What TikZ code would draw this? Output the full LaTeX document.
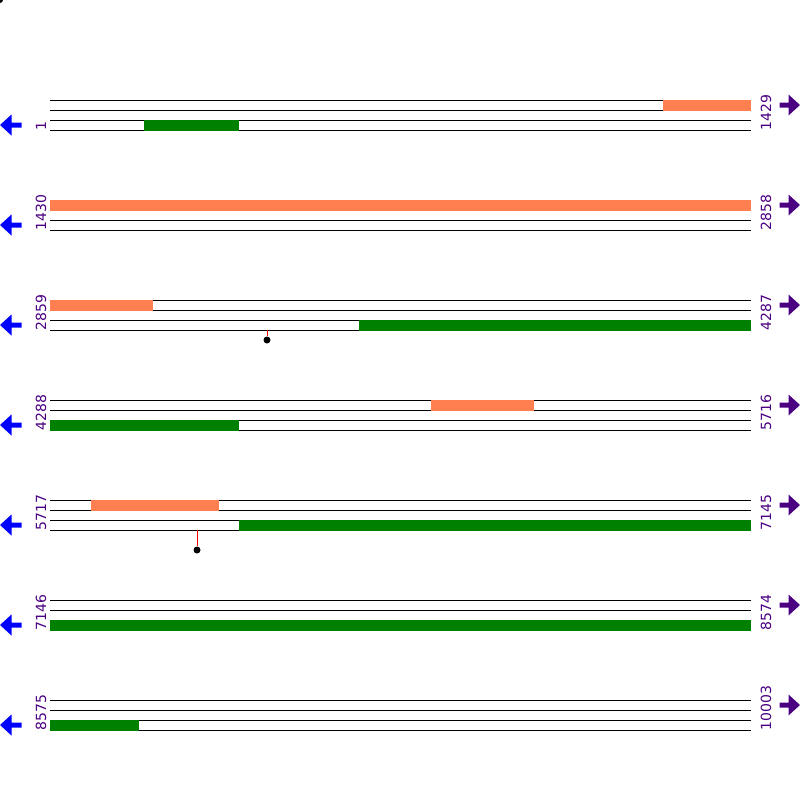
\documentclass[tikz,border=0pt]{standalone}
\usepackage{fontspec}
\newfontfamily\lblfont{DejaVu Sans}
\definecolor{coralbar}{HTML}{FF7F50}
\definecolor{greenbar}{HTML}{008000}
\definecolor{numcol}{HTML}{4B0082}
\definecolor{leftarr}{HTML}{0000FF}
\definecolor{rightarr}{HTML}{4B0082}
\tikzset{
  seqline/.style={black, line width=1pt},
  fwdbar/.style={fill=coralbar, draw=none},
  revbar/.style={fill=greenbar, draw=none},
  poslbl/.style={rotate=90, anchor=west, inner sep=0pt, text=numcol, font=\lblfont\fontsize{14}{15}\selectfont},
  pinline/.style={red, line width=1pt},
  pindot/.style={circle, fill=black, inner sep=0pt, minimum size=7pt},
  larrow/.style={fill=leftarr, draw=none},
  rarrow/.style={fill=rightarr, draw=none}
}
\begin{document}
\begin{tikzpicture}[x=1pt,y=-1pt]
\useasboundingbox (0,0) rectangle (800,800);
\fill[black] (0,0) circle (3);
% rows
\foreach \r/\a/\b [count=\i] in {100/1/1429,200/1430/2858,300/2859/4287,400/4288/5716,500/5717/7145,600/7146/8574,700/8575/10003}{
  \foreach \k in {0,10,20,30}{
    \draw[seqline] (50,\r+\k) -- (751,\r+\k);
  }
  \node[poslbl] (l\i) at (41,\r+30.5) {\a};
  \node[poslbl] (r\i) at (766,\r+30.5) {\b};
  \fill[larrow] (0,\r+25) -- (11.5,\r+14.5) -- (11.5,\r+22.5) -- (21.5,\r+22.5) -- (21.5,\r+27.5) -- (11.5,\r+27.5) -- (11.5,\r+35.5) -- cycle;
  \fill[rarrow] (800,\r+5) -- (788.5,\r-5.5) -- (788.5,\r+2.5) -- (779.5,\r+2.5) -- (779.5,\r+7.5) -- (788.5,\r+7.5) -- (788.5,\r+15.5) -- cycle;
}
% forward (orange) bars
\fill[fwdbar] (663,100) rectangle (751,110.5);
\fill[fwdbar] (50,200) rectangle (751,210.5);
\fill[fwdbar] (50,300) rectangle (153,310.5);
\fill[fwdbar] (431,400) rectangle (534,410.5);
\fill[fwdbar] (91,500) rectangle (219,510.5);
% reverse (green) bars
\fill[revbar] (144,120) rectangle (239,130.5);
\fill[revbar] (359,320) rectangle (751,330.5);
\fill[revbar] (50,420) rectangle (239,430.5);
\fill[revbar] (239,520) rectangle (751,530.5);
\fill[revbar] (50,620) rectangle (751,630.5);
\fill[revbar] (50,720) rectangle (139,730.5);
% pins
\coordinate (p1top) at (267,330);
\node[pindot] (p1) at (267,340) {};
\draw[pinline] (p1top) -- (p1);
\coordinate (p2top) at (197,530);
\node[pindot] (p2) at (197,550) {};
\draw[pinline] (p2top) -- (p2);
\end{tikzpicture}
\end{document}
